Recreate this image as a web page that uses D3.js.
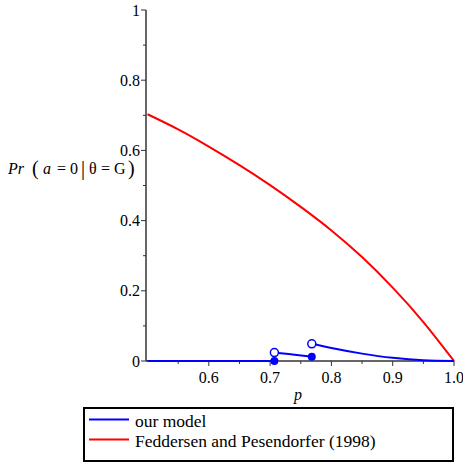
<!DOCTYPE html>
<html><head><meta charset="utf-8">
<script src="https://cdn.jsdelivr.net/npm/d3@7"></script>
<style>body{margin:0;background:#fff}svg{display:block}</style>
</head><body>
<script>
// Data
const xTicks = [0.6, 0.7, 0.8, 0.9, 1.0];
const xTickLabels = ["0.6", "0.7", "0.8", "0.9", "1.0"];
const yTicks = [0, 0.2, 0.4, 0.6, 0.8, 1];
const yTickLabels = ["0", "0.2", "0.4", "0.6", "0.8", "1"];
const seriesNames = ["our model", "Feddersen and Pesendorfer (1998)"];
const fpP = [0.5, 0.55, 0.6, 0.65, 0.7, 0.75, 0.8, 0.85, 0.9, 0.95, 1.0];
const fpV = [0.703, 0.660, 0.611, 0.558, 0.501, 0.439, 0.372, 0.296, 0.209, 0.111, 0.0];
const modelSeg1P = [0.5, 0.707];
const modelSeg1V = [0, 0];
const modelSeg2P = [0.707, 0.74, 0.768];
const modelSeg2V = [0.024, 0.018, 0.012];
const modelSeg3P = [0.768, 0.8, 0.85, 0.9, 0.95, 1.0];
const modelSeg3V = [0.049, 0.037, 0.021, 0.009, 0.002, 0.0];
const closedP = [0.707, 0.768];
const closedV = [0, 0.012];
const openP = [0.707, 0.768];
const openV = [0.024, 0.049];

const FONT = "'Liberation Serif', 'Times New Roman', serif";
const W = 463, H = 464;
const svg = d3.select("body").append("svg").attr("width", W).attr("height", H).style("font-family", FONT);
const x = d3.scaleLinear().domain([0.5, 1.0]).range([147.5, 454]);
const y = d3.scaleLinear().domain([0, 1]).range([361, 10]);
const axisColor = "#333";

// axes lines
svg.append("line").attr("x1", 146).attr("x2", 146).attr("y1", y(1)).attr("y2", y(0)).attr("stroke", axisColor).attr("stroke-width", 1.5);
svg.append("line").attr("x1", 146).attr("x2", x(1)).attr("y1", y(0)).attr("y2", y(0)).attr("stroke", axisColor).attr("stroke-width", 1.5);

// y ticks
const yMinor = [0.1, 0.3, 0.5, 0.7, 0.9];
svg.selectAll(".ym").data(yMinor).enter().append("line").attr("x1", 143).attr("x2", 146).attr("y1", d => y(d)).attr("y2", d => y(d)).attr("stroke", axisColor);
svg.selectAll(".yM").data(yTicks).enter().append("line").attr("x1", 141).attr("x2", 146).attr("y1", d => y(d)).attr("y2", d => y(d)).attr("stroke", axisColor);
svg.selectAll(".yl").data(yTicks).enter().append("text").style("font-family", FONT).attr("x", 140).attr("y", d => y(d) + 5.5).attr("text-anchor", "end").attr("font-size", 16).text((d, i) => yTickLabels[i]);

// x ticks
const xMinor = [0.55, 0.65, 0.75, 0.85, 0.95];
svg.selectAll(".xm").data(xMinor).enter().append("line").attr("x1", d => x(d)).attr("x2", d => x(d)).attr("y1", y(0)).attr("y2", y(0) + 3).attr("stroke", axisColor);
svg.selectAll(".xM").data(xTicks).enter().append("line").attr("x1", d => x(d)).attr("x2", d => x(d)).attr("y1", y(0)).attr("y2", y(0) + 5).attr("stroke", axisColor);
svg.selectAll(".xl").data(xTicks).enter().append("text").style("font-family", FONT).attr("x", d => x(d)).attr("y", 383).attr("text-anchor", "middle").attr("font-size", 16).text((d, i) => xTickLabels[i]);

// axis labels
svg.append("text").style("font-family", FONT).attr("x", 298).attr("y", 400).attr("text-anchor", "middle").attr("font-size", 16).attr("font-style", "italic").text("p");
const ylParts = [
  {t: "Pr", x: 8, it: true, fs: 16},
  {t: "(", x: 32, it: false, fs: 20},
  {t: "a", x: 43, it: true, fs: 16},
  {t: "=", x: 57, it: false, fs: 16},
  {t: "0", x: 70, it: false, fs: 16},
  {t: "|", x: 81, it: false, fs: 20},
  {t: "θ", x: 89, it: false, fs: 16},
  {t: "=", x: 101, it: false, fs: 16},
  {t: "G", x: 114, it: false, fs: 16},
  {t: ")", x: 128, it: false, fs: 20}
];
ylParts.forEach(pp => {
  svg.append("text").style("font-family", FONT).attr("x", pp.x).attr("y", 174 + (pp.fs > 16 ? 1 : 0)).attr("font-size", pp.fs)
    .attr("font-style", pp.it ? "italic" : "normal").text(pp.t);
});

// lines
const line = d3.line().x(d => x(d[0])).y(d => y(d[1])).curve(d3.curveNatural);
const zip = (a, b) => a.map((v, i) => [v, b[i]]);
svg.append("path").attr("d", line(zip(fpP, fpV))).attr("fill", "none").attr("stroke", "#ff0000").attr("stroke-width", 2);
const lineM = d3.line().x(d => x(d[0])).y(d => y(d[1])).curve(d3.curveMonotoneX);
[[modelSeg1P, modelSeg1V], [modelSeg2P, modelSeg2V], [modelSeg3P, modelSeg3V]].forEach(([p, v]) => {
  svg.append("path").attr("d", lineM(zip(p, v))).attr("fill", "none").attr("stroke", "#0000ff").attr("stroke-width", 2);
});
svg.selectAll(".cd").data(zip(closedP, closedV)).enter().append("circle").attr("cx", d => x(d[0])).attr("cy", d => y(d[1])).attr("r", 4).attr("fill", "#0000ff");
svg.selectAll(".od").data(zip(openP, openV)).enter().append("circle").attr("cx", d => x(d[0])).attr("cy", d => y(d[1])).attr("r", 4).attr("fill", "#fff").attr("stroke", "#0000ff").attr("stroke-width", 1.5);

// legend
svg.append("rect").attr("x", 84).attr("y", 408).attr("width", 369).attr("height", 53).attr("fill", "#fff").attr("stroke", "#000").attr("stroke-width", 2);
const legColors = ["#0000ff", "#ff0000"];
seriesNames.forEach((n, i) => {
  const ly = 419.5 + i * 20;
  svg.append("line").attr("x1", 89).attr("x2", 129).attr("y1", ly).attr("y2", ly).attr("stroke", legColors[i]).attr("stroke-width", 2);
  svg.append("text").style("font-family", FONT).attr("x", 135).attr("y", ly + 7).attr("font-size", 17.5).text(n);
});
</script>
</body></html>
